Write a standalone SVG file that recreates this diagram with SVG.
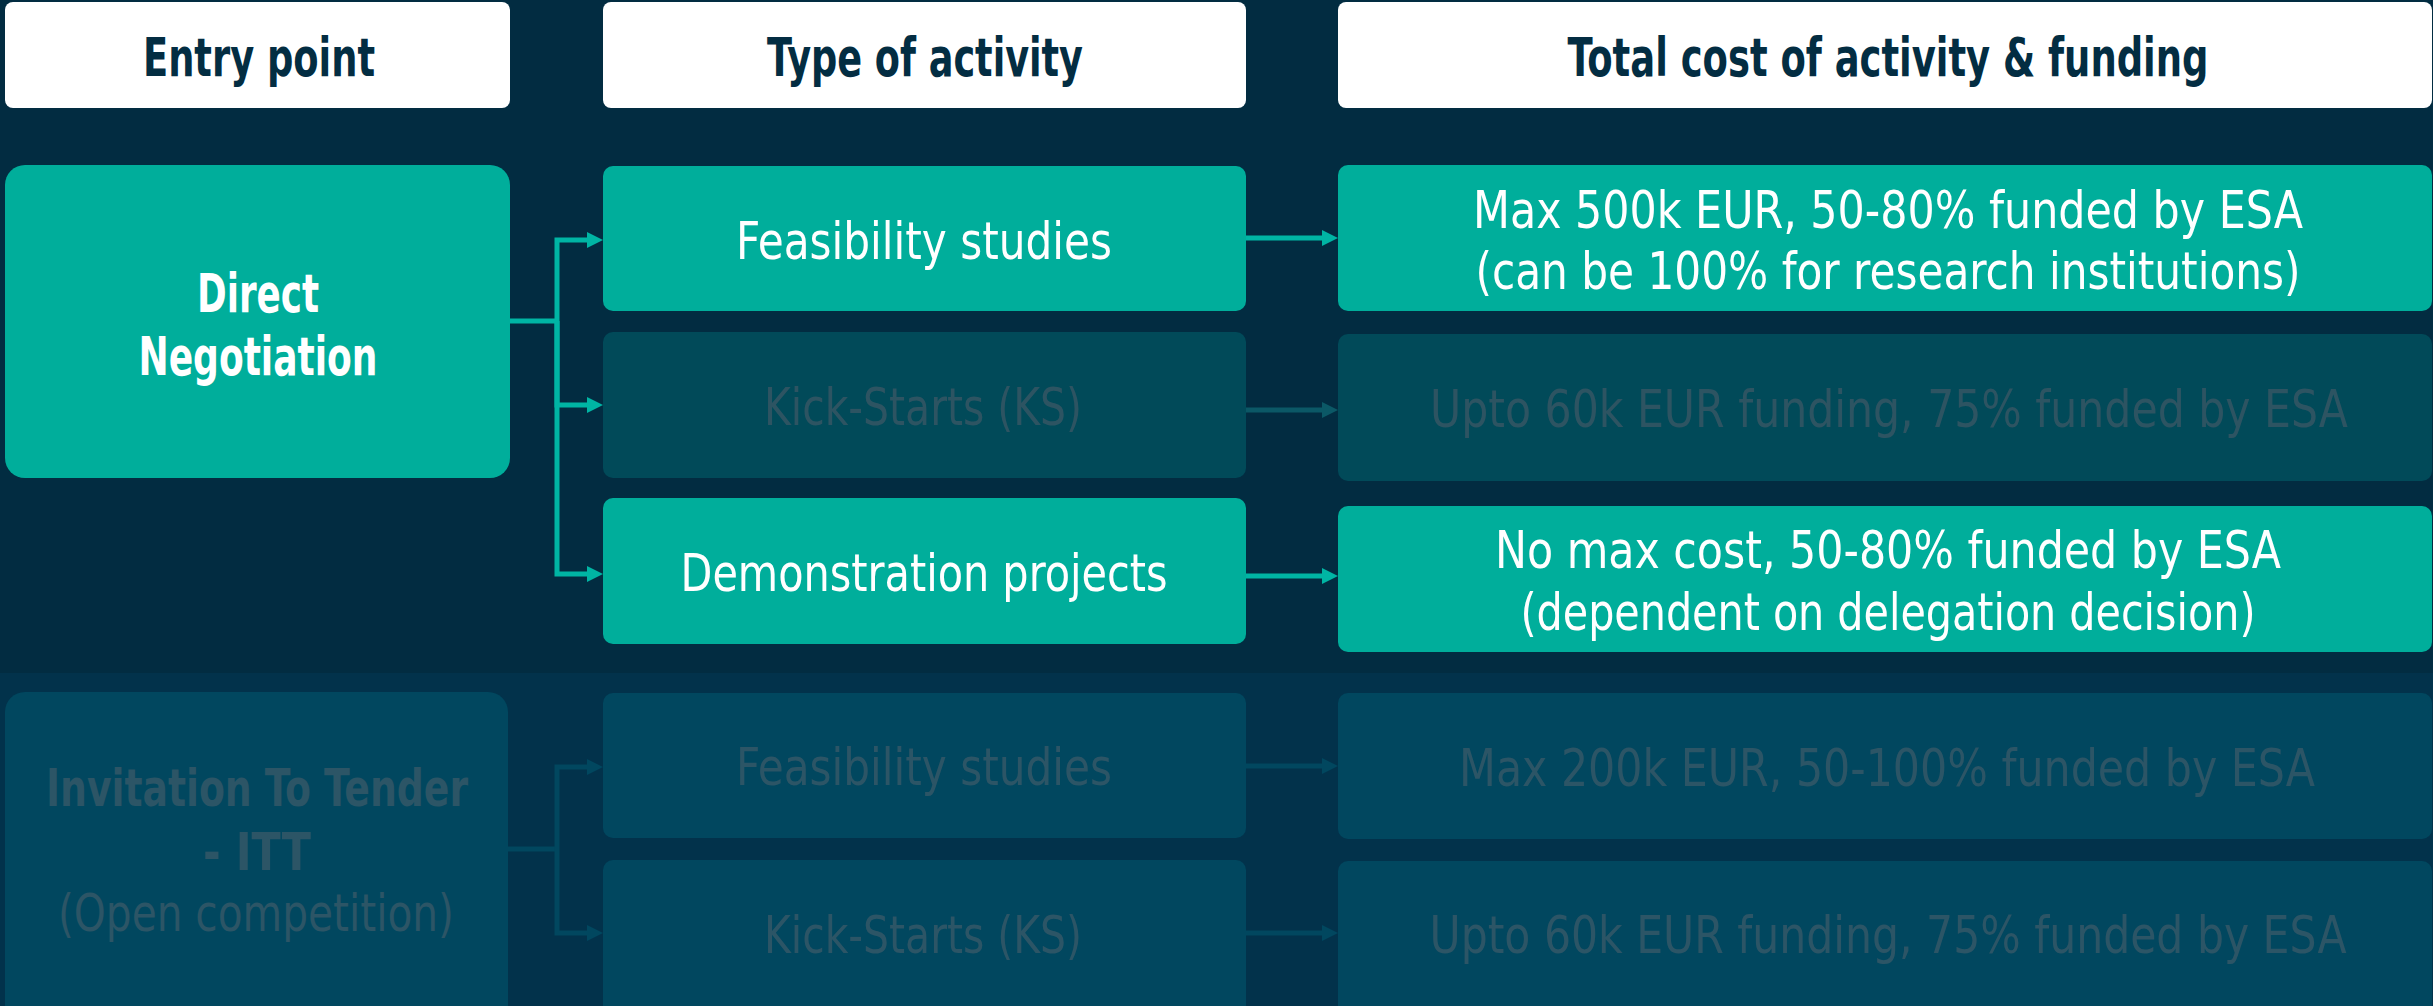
<svg xmlns="http://www.w3.org/2000/svg" width="2433" height="1006" viewBox="0 0 2433 1006">
<style>
text{font-family:"DejaVu Sans Condensed","DejaVu Sans","Liberation Sans",sans-serif;font-stretch:condensed;text-anchor:middle}
.hd{fill:#ffffff}
.hdt{fill:#032d42;font-size:53px;font-weight:bold}
.on{fill:#00ae9b}
.dim{fill:#014a59}
.itt{fill:#01475f}
.t{font-size:51px;fill:#ffffff}
.b{font-weight:bold;font-size:53px}
.td{font-size:51px;fill:#2d5462}
.ti{font-size:51px;fill:#2c5566}
.c{fill:none;stroke-width:5}
.c1{stroke:#00b5a4}
.c2{stroke:#0b5866}
.c3{stroke:#01475f}
</style>
<defs>
<marker id="a1" markerUnits="userSpaceOnUse" viewBox="0 0 16 16" refX="0" refY="8" markerWidth="16" markerHeight="16" orient="auto"><path d="M0 0L16 8L0 16z" fill="#00b5a4"/></marker>
<marker id="a2" markerUnits="userSpaceOnUse" viewBox="0 0 16 16" refX="0" refY="8" markerWidth="16" markerHeight="16" orient="auto"><path d="M0 0L16 8L0 16z" fill="#0b5866"/></marker>
<marker id="a3" markerUnits="userSpaceOnUse" viewBox="0 0 16 16" refX="0" refY="8" markerWidth="16" markerHeight="16" orient="auto"><path d="M0 0L16 8L0 16z" fill="#01475f"/></marker>
</defs>
<rect x="0" y="0" width="2433" height="1006" fill="#022c41"/>
<rect x="0" y="673" width="2433" height="333" fill="#02324b"/>

<g id="h-entry"><rect class="hd" x="5" y="2" width="505" height="106" rx="8"/><text class="hdt" x="259" y="76" textLength="232" lengthAdjust="spacingAndGlyphs">Entry point</text></g>
<g id="h-type"><rect class="hd" x="603" y="2" width="643" height="106" rx="8"/><text class="hdt" x="925" y="76" textLength="316" lengthAdjust="spacingAndGlyphs">Type of activity</text></g>
<g id="h-cost"><rect class="hd" x="1338" y="2" width="1094" height="106" rx="8"/><text class="hdt" x="1888" y="76" textLength="641" lengthAdjust="spacingAndGlyphs">Total cost of activity &amp; funding</text></g>

<g id="direct-negotiation"><rect class="on" x="5" y="165" width="505" height="313" rx="20"/>
<text class="t b" x="258" y="312" textLength="122" lengthAdjust="spacingAndGlyphs">Direct</text>
<text class="t b" x="258" y="375" textLength="239" lengthAdjust="spacingAndGlyphs">Negotiation</text></g>

<g id="dn-feasibility"><rect class="on" x="603" y="166" width="643" height="145" rx="10"/><text class="t" x="924" y="259" textLength="376" lengthAdjust="spacingAndGlyphs">Feasibility studies</text></g>
<g id="dn-kickstarts"><rect class="dim" x="603" y="332" width="643" height="146" rx="10"/><text class="td" x="923" y="425" textLength="318" lengthAdjust="spacingAndGlyphs">Kick-Starts (KS)</text></g>
<g id="dn-demonstration"><rect class="on" x="603" y="498" width="643" height="146" rx="10"/><text class="t" x="924" y="591" textLength="487" lengthAdjust="spacingAndGlyphs">Demonstration projects</text></g>

<g id="cost-feasibility"><rect class="on" x="1338" y="165" width="1094" height="146" rx="10"/>
<text class="t" x="1888" y="228" textLength="830" lengthAdjust="spacingAndGlyphs">Max 500k EUR, 50-80% funded by ESA</text>
<text class="t" x="1888" y="289" textLength="825" lengthAdjust="spacingAndGlyphs">(can be 100% for research institutions)</text></g>
<g id="cost-kickstarts"><rect class="dim" x="1338" y="334" width="1094" height="147" rx="10"/>
<text class="td" x="1889" y="427" textLength="918" lengthAdjust="spacingAndGlyphs">Upto 60k EUR funding, 75% funded by ESA</text></g>
<g id="cost-demonstration"><rect class="on" x="1338" y="506" width="1094" height="146" rx="10"/>
<text class="t" x="1888" y="568" textLength="786" lengthAdjust="spacingAndGlyphs">No max cost, 50-80% funded by ESA</text>
<text class="t" x="1888" y="630" textLength="735" lengthAdjust="spacingAndGlyphs">(dependent on delegation decision)</text></g>

<g id="itt"><rect class="itt" x="5" y="692" width="503" height="340" rx="20"/>
<text class="ti b" x="257" y="806" textLength="422" lengthAdjust="spacingAndGlyphs">Invitation To Tender</text>
<text class="ti b" x="257" y="870" textLength="108" lengthAdjust="spacingAndGlyphs">- ITT</text>
<text class="ti" x="256" y="931" textLength="396" lengthAdjust="spacingAndGlyphs">(Open competition)</text></g>
<g id="itt-feasibility"><rect class="itt" x="603" y="693" width="643" height="145" rx="10"/><text class="ti" x="924" y="785" textLength="376" lengthAdjust="spacingAndGlyphs">Feasibility studies</text></g>
<g id="itt-kickstarts"><rect class="itt" x="603" y="860" width="643" height="170" rx="10"/><text class="ti" x="923" y="953" textLength="318" lengthAdjust="spacingAndGlyphs">Kick-Starts (KS)</text></g>
<g id="itt-cost-feasibility"><rect class="itt" x="1338" y="693" width="1094" height="146" rx="10"/><text class="ti" x="1887" y="786" textLength="856" lengthAdjust="spacingAndGlyphs">Max 200k EUR, 50-100% funded by ESA</text></g>
<g id="itt-cost-kickstarts"><rect class="itt" x="1338" y="861" width="1094" height="170" rx="10"/><text class="ti" x="1888" y="953" textLength="917" lengthAdjust="spacingAndGlyphs">Upto 60k EUR funding, 75% funded by ESA</text></g>

<g id="connectors">
<path class="c c1" d="M510 321H557"/>
<path class="c c1" d="M557 321V240H587" marker-end="url(#a1)"/>
<path class="c c1" d="M557 321V405H587" marker-end="url(#a1)"/>
<path class="c c1" d="M557 321V574H587" marker-end="url(#a1)"/>
<path class="c c1" d="M1246 238H1322" marker-end="url(#a1)"/>
<path class="c c2" d="M1246 410H1322" marker-end="url(#a2)"/>
<path class="c c1" d="M1246 576H1322" marker-end="url(#a1)"/>
<path class="c c3" d="M508 849H557"/>
<path class="c c3" d="M557 849V767H587" marker-end="url(#a3)"/>
<path class="c c3" d="M557 849V933H587" marker-end="url(#a3)"/>
<path class="c c3" d="M1246 766H1322" marker-end="url(#a3)"/>
<path class="c c3" d="M1246 933H1322" marker-end="url(#a3)"/>
</g>
</svg>
